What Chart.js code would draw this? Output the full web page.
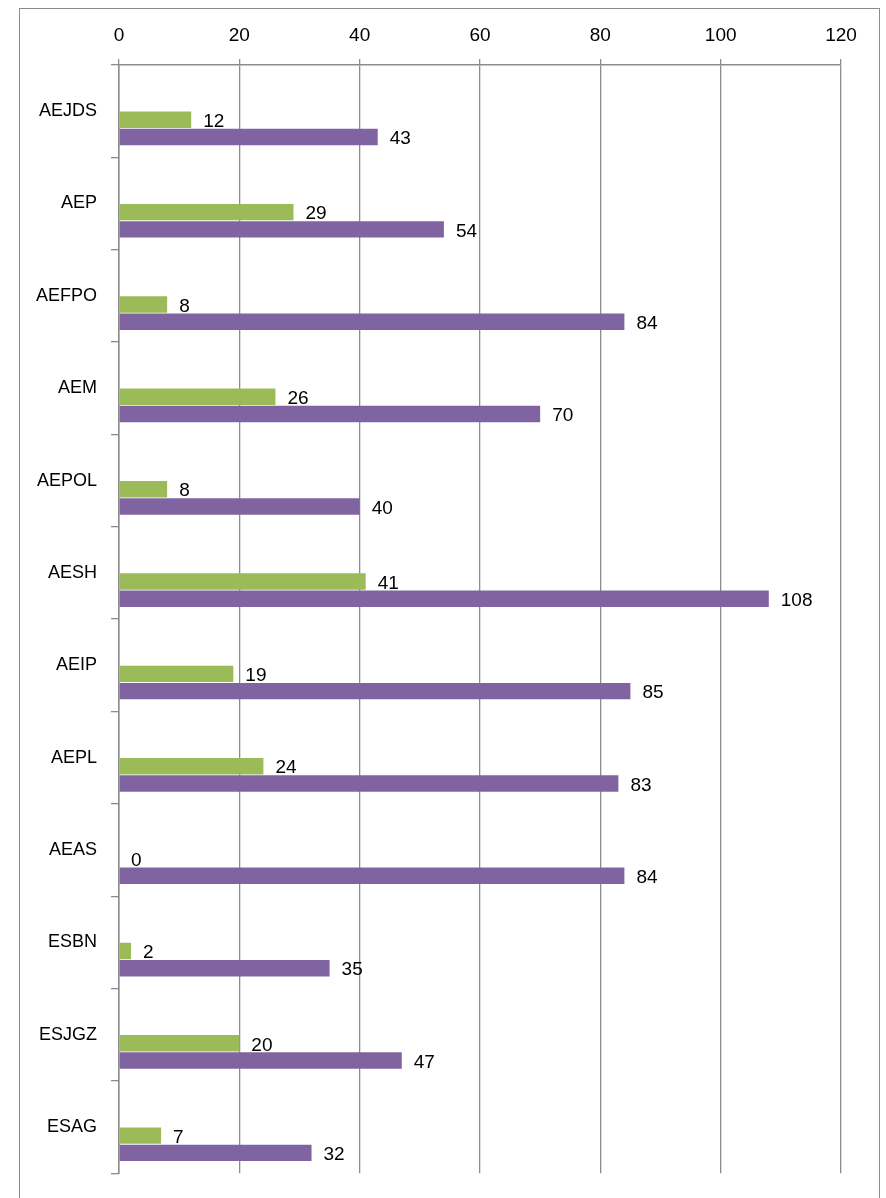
<!DOCTYPE html>
<html>
<head>
<meta charset="utf-8">
<script src="https://cdn.jsdelivr.net/npm/chart.js@4"></script>
<style>
  html, body { margin: 0; padding: 0; background: #fff; }
  #wrap { position: relative; width: 886px; height: 1198px; overflow: hidden; }
  #frame { position: absolute; left: 19px; top: 8px; width: 861px; height: 1200px; border: 1px solid #8c8c8c; box-sizing: border-box; }
  canvas { position: absolute; left: 0; top: 0; }
</style>
</head>
<body>
<div id="wrap">
  <div id="frame"></div>
  <canvas id="chart" width="886" height="1198"></canvas>
</div>
<script>
const categories = ["AEJDS", "AEP", "AEFPO", "AEM", "AEPOL", "AESH", "AEIP", "AEPL", "AEAS", "ESBN", "ESJGZ", "ESAG"];
const greenValues = [12, 29, 8, 26, 8, 41, 19, 24, 0, 2, 20, 7];
const purpleValues = [43, 54, 84, 70, 40, 108, 85, 83, 84, 35, 47, 32];
const xTicks = [0, 20, 40, 60, 80, 100, 120];

const FONT = "'Liberation Sans', Arial, sans-serif";

// writes the value right of each visible bar
const valueLabels = {
    id: 'valueLabels',
    afterDatasetsDraw(chart) {
        const ctx = chart.ctx;
        ctx.save();
        ctx.font = '19px ' + FONT;
        ctx.fillStyle = '#000';
        ctx.textAlign = 'left';
        ctx.textBaseline = 'middle';
        chart.data.datasets.forEach((ds, i) => {
            if (!ds.showValues) return;
            chart.getDatasetMeta(i).data.forEach((bar, j) => {
                ctx.fillText(String(ds.data[j]), bar.x + 12, bar.y + 2);
            });
        });
        ctx.restore();
    }
};

const data = {
    labels: categories,
    datasets: [
        // two empty series sit above the visible pair, as in the original sheet
        { label: 'spacer1', data: [], backgroundColor: 'transparent' },
        { label: 'spacer2', data: [], backgroundColor: 'transparent' },
        { label: 'green', data: greenValues, backgroundColor: '#9bbb59', showValues: true },
        { label: 'purple', data: purpleValues, backgroundColor: '#8064a2', showValues: true }
    ]
};

const config = {
    type: 'bar',
    data,
    options: {
        indexAxis: 'y',
        responsive: false,
        animation: false,
        maintainAspectRatio: false,
        layout: { padding: { left: 0, right: 45, top: 0, bottom: 20 } },
        datasets: {
            bar: { categoryPercentage: 0.746, barPercentage: 0.955 }
        },
        plugins: {
            legend: { display: false },
            tooltip: { enabled: false }
        },
        scales: {
            x: {
                position: 'top',
                min: 0,
                max: 120,
                afterBuildTicks: (scale) => { scale.ticks = xTicks.map(v => ({ value: v })); },
                afterFit: (scale) => { scale.height = 65; },
                ticks: { color: '#000', padding: 12, font: { family: FONT, size: 19 } },
                grid: { color: '#8c8c8c', lineWidth: 1.3, tickLength: 6 },
                border: { color: '#8c8c8c', width: 1.5 }
            },
            y: {
                afterFit: (scale) => { scale.width = 119; },
                ticks: { color: '#000', padding: 14, font: { family: FONT, size: 18 } },
                grid: { drawOnChartArea: false, color: '#8c8c8c', lineWidth: 1.3, tickLength: 8 },
                border: { color: '#8c8c8c', width: 1.5 }
            }
        }
    },
    plugins: [valueLabels]
};

const chart = new Chart(document.getElementById('chart'), config);
</script>
</body>
</html>
